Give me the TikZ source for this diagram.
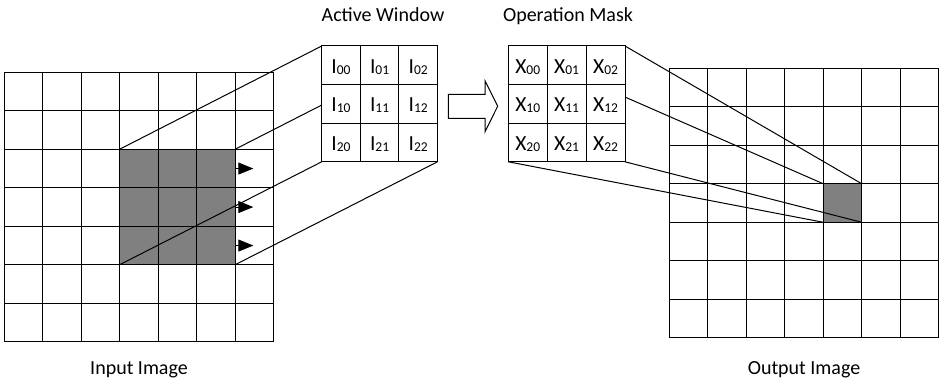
\documentclass[tikz,border=0pt]{standalone}
\usepackage{fontspec}
\setmainfont{Carlito}
\usetikzlibrary{arrows.meta}
\definecolor{cellgray}{RGB}{128,128,128}
\pgfdeclarelayer{gridlayer}
\pgfdeclarelayer{linelayer}
\pgfsetlayers{gridlayer,linelayer,main}

% letter with a lowered, smaller index
\newcommand{\cellsub}[2]{#1\raisebox{-1pt}{\fontsize{13.5}{14}\selectfont #2}}

\tikzset{
  cell/.style={draw=black, line width=1pt, minimum size=38.5pt, inner sep=0pt, outer sep=0pt},
  wincell/.style={cell, fill=white, minimum width=38.6pt, minimum height=38.6pt,
    font=\fontsize{21.5}{24}\selectfont, text height=15.5pt, text depth=0pt},
  maskcell/.style={wincell, minimum width=38.9pt},
  wire/.style={line width=1pt, draw=black},
  push/.style={line width=1pt, -{Triangle[length=15pt,width=12pt]}},
  caption/.style={font=\fontsize{20}{24}\selectfont, anchor=base, inner sep=0pt},
  bigarrow/.style={line width=1pt, draw=black, fill=white, line join=miter},
}

\begin{document}
\begin{tikzpicture}[x=1pt,y=-1pt]
\useasboundingbox (0,0) rectangle (943,379);

% input image: 7x7 grid with a 3x3 shaded block
\begin{pgfonlayer}{gridlayer}
\foreach \r in {0,...,6}{
  \foreach \c in {0,...,6}{
    \pgfmathtruncatemacro{\hot}{(\r>=2)&&(\r<=4)&&(\c>=3)&&(\c<=5)}
    \ifnum\hot=1 \def\cellfill{cellgray}\else\def\cellfill{white}\fi
    \node[cell, fill=\cellfill] (in-\r-\c) at ({4+38.5*(\c+0.5)},{72.3+38.5*(\r+0.5)}) {};
  }
}
% output image: 7x7 grid with one shaded cell
\foreach \r in {0,...,6}{
  \foreach \c in {0,...,6}{
    \pgfmathtruncatemacro{\hot}{(\r==3)&&(\c==4)}
    \ifnum\hot=1 \def\cellfill{cellgray}\else\def\cellfill{white}\fi
    \node[cell, fill=\cellfill] (out-\r-\c) at ({669.3+38.5*(\c+0.5)},{68.3+38.5*(\r+0.5)}) {};
  }
}
\end{pgfonlayer}

% active window and operation mask
\foreach \r in {0,1,2}{
  \foreach \c in {0,1,2}{
    \node[wincell] (aw-\r-\c) at ({321.7+38.6*(\c+0.5)},{46+38.6*(\r+0.5)}) {\cellsub{I}{\r\c}};
    \node[maskcell] (om-\r-\c) at ({508.3+38.9*(\c+0.5)},{46+38.6*(\r+0.5)}) {\cellsub{X}{\r\c}};
  }
}

% projection lines
\begin{pgfonlayer}{linelayer}
\draw[wire] (in-2-3.north west) -- (aw-0-0.north west);
\draw[wire] (in-2-5.north east) -- (aw-0-2.north east);
\draw[wire] (in-4-3.south west) -- (aw-2-0.south west);
\draw[wire] (in-4-5.south east) -- (aw-2-2.south east);
\draw[wire] (om-0-0.north west) -- (out-3-4.north west);
\draw[wire] (om-0-2.north east) -- (out-3-4.north east);
\draw[wire] (om-2-0.south west) -- (out-3-4.south west);
\draw[wire] (om-2-2.south east) -- (out-3-4.south east);
\end{pgfonlayer}

% sliding direction markers
\foreach \r in {2,3,4}{
  \draw[push] (in-\r-5.east) -- ++(18.3,0);
}

% transform arrow
\draw[bigarrow] (448.3,94.3) -- (485,94.3) -- (485,80.7) -- (497.7,106.2)
  -- (485,131.7) -- (485,118.3) -- (448.3,118.3) -- cycle;

% captions
\node[caption] (awlabel) at (383,22) {Active Window};
\node[caption] (omlabel) at (568,22) {Operation Mask};
\node[caption] (inlabel) at (139,375) {Input Image};
\node[caption] (outlabel) at (804,375) {Output Image};
\end{tikzpicture}
\end{document}
